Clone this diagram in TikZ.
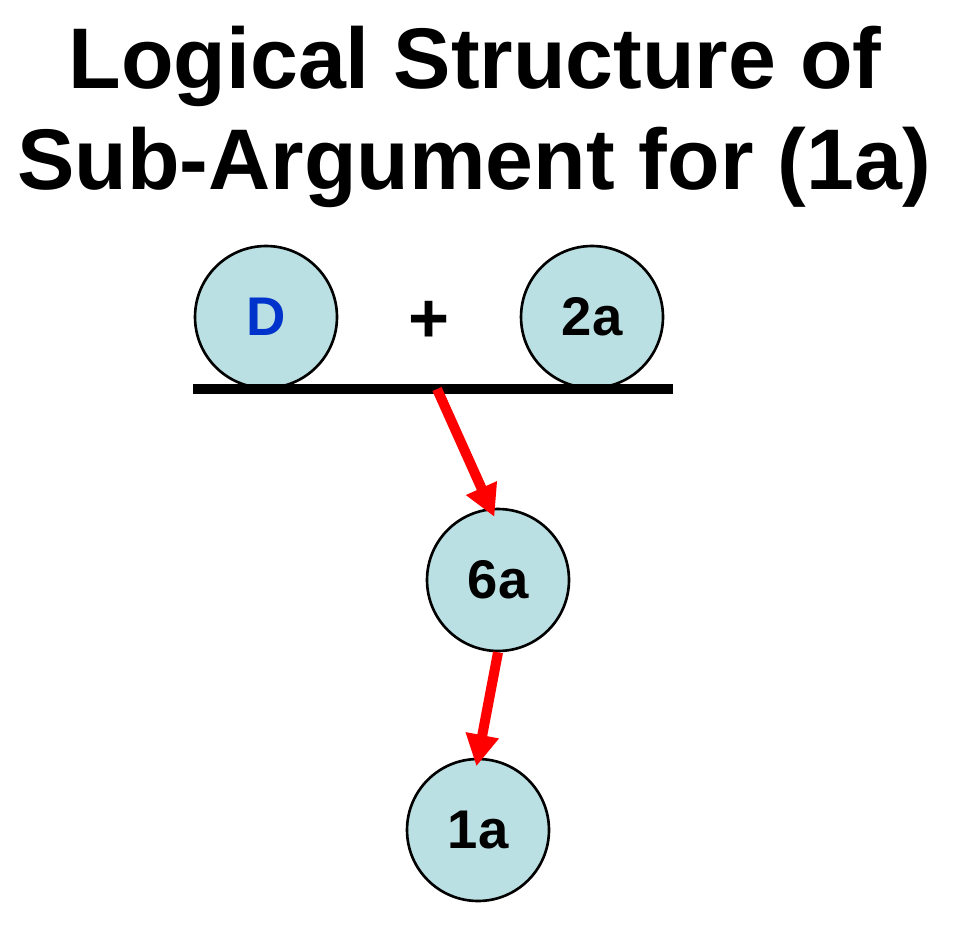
\documentclass[tikz,border=0pt]{standalone}
\usepackage{fontspec}
\setmainfont{Liberation Sans}
\usetikzlibrary{arrows.meta}
\definecolor{stmtfill}{RGB}{187,224,227}
\definecolor{premblue}{RGB}{0,51,204}
\tikzset{
	stmt/.style={circle, draw=black, line width=1.5pt, fill=stmtfill, minimum size=2.84cm, inner sep=0pt, font=\fontsize{31}{36}\selectfont\bfseries},
	infer/.style={draw=red, line width=5.7pt, -{Triangle[length=18pt,width=18pt]}},
	heading/.style={anchor=base, font=\fontsize{49}{58}\selectfont\bfseries}
}
\begin{document}
\begin{tikzpicture}[x=0.02cm, y=-0.02cm]
	\useasboundingbox (0,0) rectangle (972,942);
	\node[heading] (title1) at (475,89) {Logical Structure of};
	\node[heading] (title2) at (474,190) {Sub-Argument for (1a)};
	\node[stmt, text=premblue] (D) at (266,317) {D};
	\node[stmt] (2a) at (592,317) {2a};
	\node[font=\fontsize{40}{48}\selectfont\bfseries] (plus) at (429,322) {+};
	\coordinate (barL) at (193,389);
	\coordinate (barR) at (673,389);
	\coordinate (join) at (437,389);
	\draw[line width=5.7pt] (barL) -- (barR);
	\node[stmt] (6a) at (498,580) {6a};
	\node[stmt] (1a) at (478,830) {1a};
	\draw[infer, shorten >=-5.5pt] (join) -- (6a.96);
	\draw[infer, shorten >=-5pt] (6a.south) -- (1a.north);
\end{tikzpicture}
\end{document}
